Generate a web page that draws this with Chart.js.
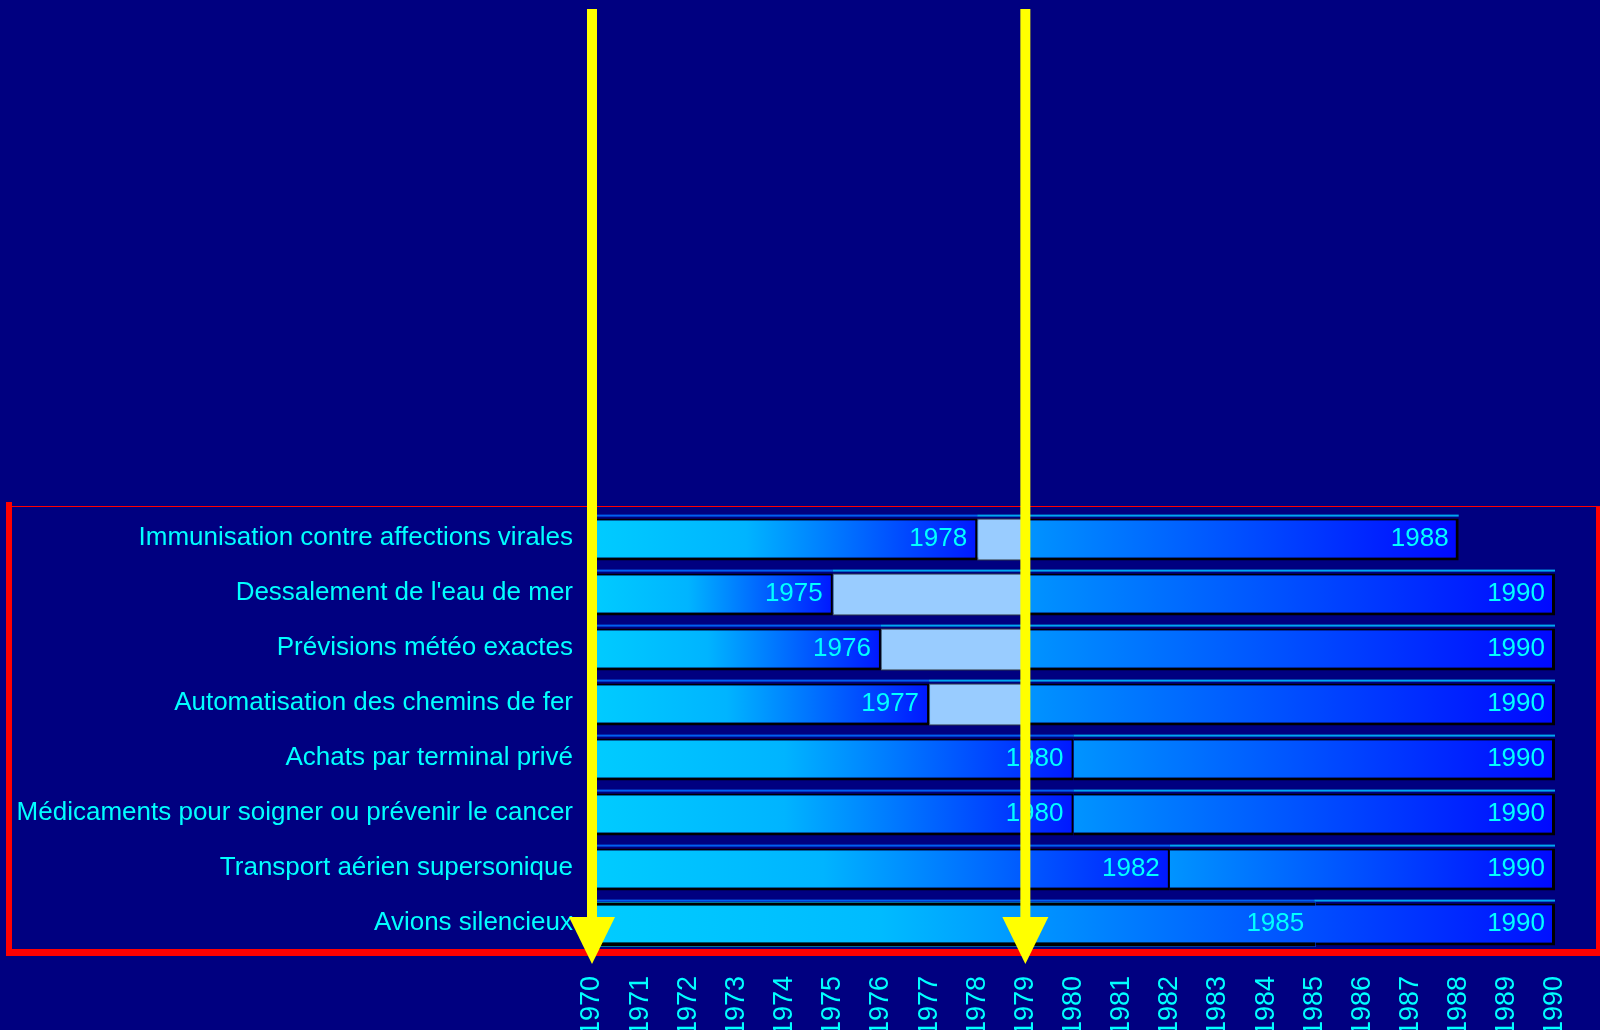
<!DOCTYPE html>
<html>
<head>
<meta charset="utf-8">
<script src="https://cdn.jsdelivr.net/npm/chart.js@4.4.0/dist/chart.umd.min.js"></script>
<style>
  html, body { margin: 0; padding: 0; background: #000080; overflow: hidden; }
  #chart { display: block; }
</style>
</head>
<body>
<canvas id="chart" width="1600" height="1030"></canvas>
<script>
// rows, top to bottom
const rowLabels = [
  'Immunisation contre affections virales',
  "Dessalement de l'eau de mer",
  'Prévisions météo exactes',
  'Automatisation des chemins de fer',
  'Achats par terminal privé',
  'Médicaments pour soigner ou prévenir le cancer',
  'Transport aérien supersonique',
  'Avions silencieux'
];
const startYears = [1970, 1970, 1970, 1970, 1970, 1970, 1970, 1970];
const midYears = [1978, 1975, 1976, 1977, 1980, 1980, 1982, 1985];
const endYears = [1988, 1990, 1990, 1990, 1990, 1990, 1990, 1990];
const markerYears = [1970, 1979];
const tickYears = [1970, 1971, 1972, 1973, 1974, 1975, 1976, 1977, 1978, 1979, 1980,
  1981, 1982, 1983, 1984, 1985, 1986, 1987, 1988, 1989, 1990];

const seamlessRow = 'Avions silencieux';
const cutoff = markerYears[1];
const textColor = '#00FFFF';
const fontFamily = "'Liberation Sans', Arial, sans-serif";

const FIRST_STOPS = [[0, '#00CCFF'], [0.4, '#00B4FF'], [1, '#0018FF']];
const SECOND_STOPS = [[0, '#0094FF'], [1, '#0008FF']];
const FULL_STOPS = [[0, '#00CCFF'], [0.3, '#00BBFF'], [1, '#0010FF']];

function segGradient(chart, from, to, stops) {
  const xs = chart.scales.x;
  const g = chart.ctx.createLinearGradient(xs.getPixelForValue(from), 0, xs.getPixelForValue(to), 0);
  stops.forEach(([o, c]) => g.addColorStop(o, c));
  return g;
}

const isSeamless = (i) => rowLabels[i] === seamlessRow;

const firstColor = (c) => {
  if (c.type !== 'data' || !c.chart.chartArea) return '#00CCFF';
  const i = c.dataIndex;
  if (isSeamless(i)) return segGradient(c.chart, startYears[i], endYears[i], FULL_STOPS);
  return segGradient(c.chart, startYears[i], midYears[i], FIRST_STOPS);
};
const secondColor = (c) => {
  if (c.type !== 'data' || !c.chart.chartArea) return '#0066FF';
  const i = c.dataIndex;
  if (isSeamless(i)) return segGradient(c.chart, startYears[i], endYears[i], FULL_STOPS);
  return segGradient(c.chart, Math.max(midYears[i], cutoff), endYears[i], SECOND_STOPS);
};

const overlayPlugin = {
  id: 'overlay',
  beforeDatasetsDraw(chart) {
    // thin light edge above every bar
    const ctx = chart.ctx;
    const xs = chart.scales.x;
    ctx.save();
    chart.getDatasetMeta(1).data.forEach((bar, i) => {
      const top = bar.y - bar.height / 2 - 4;
      const x0 = xs.getPixelForValue(startYears[i]);
      const x1 = xs.getPixelForValue(midYears[i]);
      const x2 = xs.getPixelForValue(endYears[i]);
      ctx.fillStyle = '#0060F0';
      ctx.fillRect(x0, top, x1 - x0, 2);
      ctx.fillStyle = '#00A8F0';
      ctx.fillRect(x1, top, x2 - x1, 2);
    });
    ctx.restore();
  },
  afterDatasetsDraw(chart) {
    const ctx = chart.ctx;
    const xs = chart.scales.x;
    const meta = chart.getDatasetMeta(1);
    ctx.save();
    // black top/bottom edges for the seamless row (its first part has no border)
    ctx.fillStyle = '#000000';
    meta.data.forEach((bar, i) => {
      if (!isSeamless(i)) return;
      const x0 = xs.getPixelForValue(startYears[i]);
      const x1 = xs.getPixelForValue(midYears[i]) + 1;
      const top = bar.y - bar.height / 2;
      ctx.fillRect(x0, top - 1, x1 - x0, 3);
      ctx.fillRect(x0, top + bar.height - 3, x1 - x0, 4);
    });

    // year labels at the end of each segment
    ctx.font = '26px ' + fontFamily;
    ctx.fillStyle = textColor;
    ctx.textAlign = 'right';
    ctx.textBaseline = 'middle';
    meta.data.forEach((bar, i) => {
      const y = bar.y - 1;
      ctx.fillText(String(midYears[i]), xs.getPixelForValue(midYears[i]) - 10, y);
      ctx.fillText(String(endYears[i]), xs.getPixelForValue(endYears[i]) - 10, y);
    });

    // red frame
    ctx.fillStyle = '#FF0000';
    ctx.fillRect(8, 506, 1592, 1);
    ctx.fillRect(6, 502, 6, 454);
    ctx.fillRect(6, 949, 1594, 7);
    ctx.fillRect(1596, 506, 4, 450);

    // yellow arrows
    ctx.fillStyle = '#FFFF00';
    markerYears.forEach((yr) => {
      const px = xs.getPixelForValue(yr);
      ctx.fillRect(px - 5, 9, 10, 910);
      ctx.beginPath();
      ctx.moveTo(px - 23, 917);
      ctx.lineTo(px + 23, 917);
      ctx.lineTo(px, 964);
      ctx.closePath();
      ctx.fill();
    });
    ctx.restore();
  }
};

new Chart(document.getElementById('chart'), {
  type: 'bar',
  data: {
    labels: rowLabels,
    datasets: [
      {
        label: 'pale',
        order: 0,
        data: midYears.map((m) => (m < cutoff ? [m, cutoff] : null)),
        backgroundColor: '#99CCFF',
        borderColor: '#506070',
        borderWidth: { top: 1, right: 0, bottom: 1, left: 1 },
        borderSkipped: false
      },
      {
        label: 'first',
        order: 1,
        data: midYears.map((m, i) => [startYears[i], m]),
        backgroundColor: firstColor,
        borderColor: '#000000',
        borderWidth: (c) => (isSeamless(c.dataIndex)
          ? 0
          : { top: 2, right: 2, bottom: 3, left: 0 }),
        inflateAmount: (c) => (isSeamless(c.dataIndex) ? 1.5 : 0),
        borderSkipped: false
      },
      {
        label: 'second',
        order: 2,
        data: midYears.map((m, i) => [m, endYears[i]]),
        backgroundColor: secondColor,
        borderColor: '#000000',
        borderWidth: { top: 2, right: 3, bottom: 3, left: 0 },
        borderSkipped: false
      }
    ]
  },
  options: {
    indexAxis: 'y',
    responsive: false,
    animation: false,
    layout: { padding: { top: 512, right: 45, bottom: 0, left: 0 } },
    datasets: { bar: { grouped: false, barPercentage: 0.76, categoryPercentage: 1 } },
    plugins: { legend: { display: false }, tooltip: { enabled: false } },
    scales: {
      x: {
        type: 'linear',
        min: 1970,
        max: 1990,
        afterBuildTicks: (scale) => { scale.ticks = tickYears.map((v) => ({ value: v })); },
        afterFit: (scale) => {
          scale.height = 78;
          scale.paddingLeft = 0;
          scale.paddingRight = 0;
        },
        grid: { display: false, drawTicks: false },
        border: { display: false },
        ticks: {
          color: textColor,
          font: { size: 27, family: fontFamily },
          minRotation: 90,
          maxRotation: 90,
          padding: 24,
          autoSkip: false,
          callback: (v) => String(v)
        }
      },
      y: {
        afterFit: (scale) => { scale.width = 592; },
        grid: { display: false, drawTicks: false },
        border: { display: false },
        ticks: {
          color: textColor,
          font: { size: 26, family: fontFamily },
          padding: 19,
          labelOffset: -2
        }
      }
    }
  },
  plugins: [overlayPlugin]
});
</script>
</body>
</html>
